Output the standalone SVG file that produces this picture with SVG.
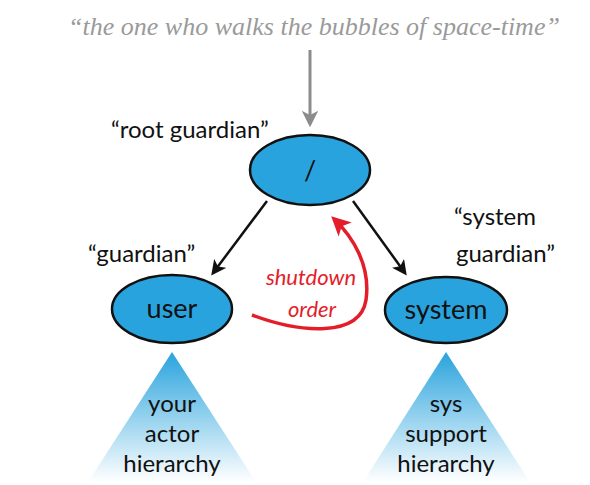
<svg xmlns="http://www.w3.org/2000/svg" width="590" height="485" viewBox="0 0 590 485">
<defs>
<linearGradient id="tri" x1="0" y1="0" x2="0" y2="1">
<stop offset="0" stop-color="#29a3dd"/>
<stop offset="1" stop-color="#ffffff"/>
</linearGradient>
<marker id="ah" viewBox="0 0 10 10" refX="8" refY="5" markerWidth="6" markerHeight="6" orient="auto" markerUnits="strokeWidth">
<path d="M0,0 L10,5 L0,10 L2.5,5 z" fill="#111"/>
</marker>
<marker id="ahg" viewBox="0 0 10 10" refX="8" refY="5" markerWidth="5.5" markerHeight="5.5" orient="auto" markerUnits="strokeWidth">
<path d="M0,0 L10,5 L0,10 L2.5,5 z" fill="#8c8c8c"/>
</marker>
<marker id="ahr" viewBox="0 0 10 10" refX="8" refY="5" markerWidth="5.5" markerHeight="5.5" orient="auto" markerUnits="strokeWidth">
<path d="M0,0 L10,5 L0,10 L2.5,5 z" fill="#e31e2a"/>
</marker>
</defs>
<style>
.node{fill:#29a3dd;stroke:#111;stroke-width:2.5}
.nt{font-family:Lato,"Liberation Sans",sans-serif;font-size:27px;fill:#111;text-anchor:middle}
.lbl{font-family:Lato,"Liberation Sans",sans-serif;font-size:24px;fill:#111}
.tt{font-family:Lato,"Liberation Sans",sans-serif;font-size:24px;fill:#111;text-anchor:middle}
.red{font-family:Lato,"Liberation Sans",sans-serif;font-size:22px;fill:#e31e2a;font-style:italic;text-anchor:middle}
.conn{stroke:#111;stroke-width:2.5;fill:none}
</style>
<text x="314" y="35" font-family="'Liberation Serif',serif" font-style="italic" font-size="26" fill="#9a9a9a" text-anchor="middle">“the one who walks the bubbles of space-time”</text>
<g id="connectors">
<line x1="310" y1="50" x2="310" y2="124" stroke="#8c8c8c" stroke-width="3" marker-end="url(#ahg)"/>
<line class="conn" x1="267" y1="201" x2="213" y2="273" marker-end="url(#ah)"/>
<line class="conn" x1="353" y1="201" x2="405" y2="273" marker-end="url(#ah)"/>
<path d="M252,315 C300,333 360,338 366,300 C371,265 352,236 334,219" stroke="#e31e2a" stroke-width="3.5" fill="none" marker-end="url(#ahr)"/>
<text class="red" x="311" y="285">shutdown</text>
<text class="red" x="312" y="317">order</text>
</g>
<g id="root">
<ellipse class="node" cx="310" cy="170" rx="60" ry="35"/>
<text class="nt" x="310" y="180">/</text>
<text class="lbl" x="111" y="138">“root guardian”</text>
</g>
<g id="user">
<ellipse class="node" cx="172" cy="309" rx="60" ry="34"/>
<text class="nt" x="172" y="318">user</text>
<text class="lbl" x="88" y="262">“guardian”</text>
</g>
<g id="system">
<ellipse class="node" cx="446" cy="310" rx="61" ry="33"/>
<text class="nt" x="446" y="319">system</text>
<text class="lbl" x="454" y="225">“system</text>
<text class="lbl" x="456" y="262">guardian”</text>
</g>
<g id="user-hierarchy">
<polygon points="172,352 256,482 88,482" fill="url(#tri)"/>
<text class="tt" x="172" y="412">your</text>
<text class="tt" x="172" y="442">actor</text>
<text class="tt" x="172" y="472">hierarchy</text>
</g>
<g id="sys-hierarchy">
<polygon points="446,352 530,482 363,482" fill="url(#tri)"/>
<text class="tt" x="446" y="412">sys</text>
<text class="tt" x="446" y="442">support</text>
<text class="tt" x="446" y="472">hierarchy</text>
</g>
</svg>
